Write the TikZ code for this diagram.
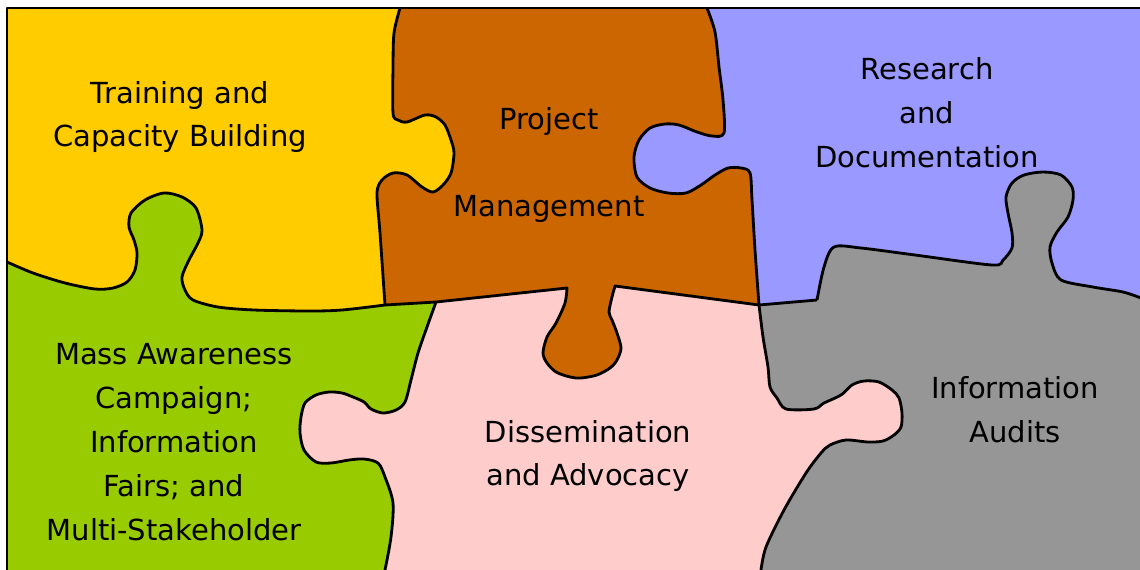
\documentclass[tikz,border=0pt]{standalone}
\usepackage{fontspec}
\setmainfont{DejaVu Sans}
\usetikzlibrary{positioning}
\definecolor{trainyellow}{HTML}{FFCC00}
\definecolor{projbrown}{HTML}{CC6600}
\definecolor{researchblue}{HTML}{9999FF}
\definecolor{massgreen}{HTML}{99CC00}
\definecolor{dissempink}{HTML}{FFCCCC}
\definecolor{auditgray}{HTML}{969696}

% cut lines between the pieces (pixel-like units)
\newcommand{\cutYellowBrown}{-- plot[smooth] coordinates {(400,8) (394,33) (393,67) (393,113) (398,120) (407,122) (425,115) (436,117) (445,125) (451,140) (454,153) (451,173) (443,185) (433,192) (422,187) (407,175) (393,173) (382,180) (377,193) (380,233) (385,305)}}
\newcommand{\cutYellowGreen}{-- plot[smooth] coordinates {(7,262) (33,273) (65,283) (95,289) (113,288) (127,282) (135,270) (137,253) (134,240) (129,227) (131,213) (145,200) (164,193) (182,197) (196,208) (202,230) (198,243) (189,260) (182,277) (185,290) (193,300) (218,307) (254,310) (309,311) (342,310) (385,305)}}
\newcommand{\cutBrownPink}{-- plot[smooth] coordinates {(567,288) (565,303) (556,323) (547,337) (543,353) (547,363) (556,372) (570,377) (581,378) (597,375) (610,368) (617,360) (621,348) (617,333) (612,320) (609,312) (612,297) (615,286)}}
\newcommand{\cutGreenPink}{-- plot[smooth] coordinates {(436,302) (427,327) (418,353) (411,380) (405,402) (396,410) (383,413) (371,409) (364,402) (353,397) (342,393) (329,392) (316,395) (305,403) (301,417) (300,433) (304,450) (316,462) (331,463) (349,460) (364,459) (378,463) (385,477) (393,503) (391,537) (385,570)}}
\newcommand{\cutBrownBlue}{-- plot[smooth] coordinates {(707,8) (715,32) (719,67) (723,100) (724,133) (712,136) (697,132) (679,125) (665,124) (650,128) (639,140) (634,157) (637,177) (650,188) (668,193) (686,193) (701,185) (715,175) (728,168) (741,168) (750,173) (752,200) (755,250) (759,305)}}
\newcommand{\cutGrayBlue}{-- plot[smooth] coordinates {(817,300) (824,267) (834,247) (861,248) (915,255) (992,265) (1003,260) (1012,248) (1012,233) (1008,213) (1006,197) (1012,183) (1024,175) (1043,172) (1061,175) (1072,187) (1073,200) (1068,217) (1057,232) (1050,247) (1052,263) (1061,280) (1093,287) (1123,292) (1141,298)}}
\newcommand{\cutPinkGray}{-- plot[smooth] coordinates {(759,305) (763,337) (768,367) (770,387) (777,398) (786,409) (814,409) (824,403) (841,395) (852,385) (864,381) (879,382) (892,390) (899,398) (902,413) (901,427) (894,435) (883,441) (868,442) (846,440) (830,445) (821,453) (806,473) (784,510) (766,547) (761,570)}}

\begin{document}
\begin{tikzpicture}[x=0.02cm, y=-0.02cm,
    cutline/.style={draw=black, line width=1.6pt, line join=round},
    piecelabel/.style={align=center, text=black, inner sep=0pt,
      font=\fontsize{16.5}{25}\selectfont}]
  \useasboundingbox (0,0) rectangle (1140,569);

  % Dissemination (base)
  \fill[dissempink] (7,8) rectangle (1141,570);

  % Project Management
  \fill[projbrown] (7,8) -- (7,320) -- (385,320) -- (385,305) -- (436,302) \cutBrownPink -- (759,305) -- (759,8) -- cycle;

  % Training
  \fill[trainyellow] (7,8) -- (400,8) \cutYellowBrown -- (385,320) -- (7,320) -- cycle;

  % Mass Awareness
  \fill[massgreen] (7,262) \cutYellowGreen -- (436,302) \cutGreenPink -- (7,570) -- cycle;

  % Information Audits
  \fill[auditgray] (759,305) \cutPinkGray -- (1141,570) -- (1141,8) -- (759,8) -- cycle;

  % Research
  \fill[researchblue] (707,8) \cutBrownBlue -- (817,300) \cutGrayBlue -- (1141,8) -- cycle;

  % outlines
  \draw[cutline] (7,570) -- (7,8) -- (1141,8);
  \draw[cutline] (400,8) \cutYellowBrown;
  \draw[cutline] (7,262) \cutYellowGreen;
  \draw[cutline] (385,305) -- (436,302) \cutBrownPink -- (759,305) -- (817,300);
  \draw[cutline] (436,302) \cutGreenPink;
  \draw[cutline] (707,8) \cutBrownBlue;
  \draw[cutline] (817,300) \cutGrayBlue;
  \draw[cutline] (759,305) \cutPinkGray;

  % labels
  \node[piecelabel] (training) at (180,117) {Training and\\Capacity Building};
  \node[piecelabel] (project) at (549,165) {Project\\~\\Management};
  \node[piecelabel] (research) at (927,113) {Research\\and\\Documentation};
  \node[piecelabel] (mass) at (174,442) {Mass Awareness\\Campaign;\\Information\\Fairs; and\\Multi-Stakeholder};
  \node[piecelabel] (dissemination) at (588,456) {Dissemination\\and Advocacy};
  \node[piecelabel] (audits) at (1015,410) {Information\\Audits};
\end{tikzpicture}
\end{document}
